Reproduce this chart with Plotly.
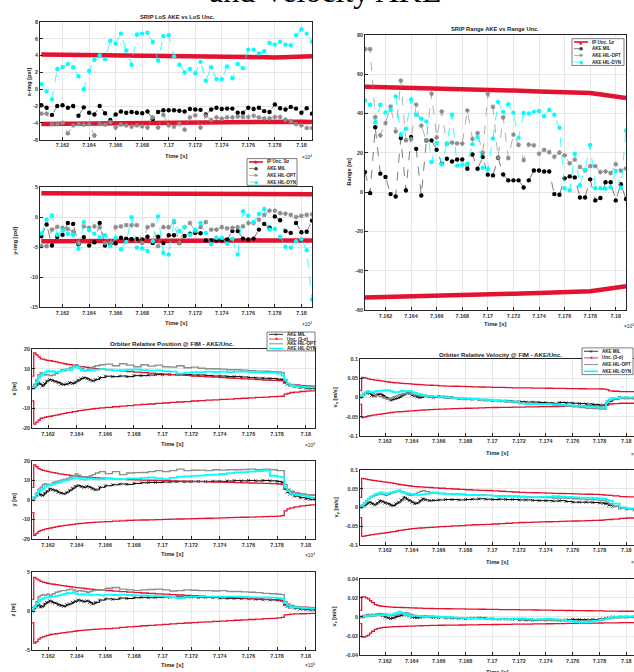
import plotly.graph_objects as go

W, H = 634, 672

RED = "#E3122F"
GRAY = "#8C8C8C"
CYAN = "#00FFFF"
BLACK = "#000000"
AXIS = "#262626"
GRID = "#E6E6E6"
FONT = "Liberation Sans"

# ---------------------------------------------------------------- ticks
TIME_TICKS = [7.162, 7.164, 7.166, 7.168, 7.170, 7.172, 7.174, 7.176, 7.178, 7.180]
TIME_TICK_TEXT = ["7.162", "7.164", "7.166", "7.168", "7.17", "7.172", "7.174", "7.176", "7.178", "7.18"]

YTICKS_XIMG = [-6, -4, -2, 0, 2, 4, 6, 8]
YTICKS_YIMG = [-15, -10, -5, 0, 5]
YTICKS_RANGE = [-60, -40, -20, 0, 20, 40, 60, 80]
YTICKS_POS = [-20, -10, 0, 10, 20]
YTICKS_POSZ = [-5, 0, 5]
YTICKS_VEL = [-0.1, -0.05, 0, 0.05, 0.1]
YTICKS_VELZ = [-0.04, -0.02, 0, 0.02, 0.04]

# ---------------------------------------------------------------- SRIP (time in 1e4 s)
T_SRIP = [7.1604, 7.1608, 7.1612, 7.1616, 7.1620, 7.1624, 7.1628, 7.1632, 7.1636, 7.1640,
          7.1644, 7.1648, 7.1652, 7.1656, 7.1660, 7.1664, 7.1668, 7.1672, 7.1676, 7.1680,
          7.1684, 7.1688, 7.1692, 7.1696, 7.1700, 7.1704, 7.1708, 7.1712, 7.1716, 7.1720,
          7.1724, 7.1728, 7.1732, 7.1736, 7.1740, 7.1744, 7.1748, 7.1752, 7.1756, 7.1760,
          7.1764, 7.1768, 7.1772, 7.1776, 7.1780, 7.1784, 7.1788, 7.1792, 7.1796, 7.1800,
          7.1804, 7.1808]
T_SRIP_UNC = [7.1604, 7.1620, 7.1640, 7.1660, 7.1680, 7.1700, 7.1720, 7.1740, 7.1760,
              7.1780, 7.1790, 7.1800, 7.1808]

XIMG_UNC3 = [4.12, 4.10, 4.08, 4.05, 4.02, 3.98, 3.93, 3.88, 3.82, 3.78, 3.80, 3.85, 3.90]
XIMG_MIL = [-1.9, -2.2, -3.05, -2.0, -1.9, -2.2, -2.0, -3.15, -2.15, -2.8,
            -3.0, -2.0, -2.85, -3.65, -3.0, -2.65, -2.8, -2.7, -2.8, -2.85,
            -2.65, -3.55, -2.7, -2.5, -2.5, -2.5, -2.55, -2.65, -2.35, -2.4,
            -2.45, -3.0, -2.4, -2.2, -2.35, -2.3, -2.3, -2.8, -2.8, -2.2,
            -2.35, -2.2, -2.6, -2.7, -1.8, -2.25, -2.4, -2.1, -2.3, -2.8,
            -2.25, -2.9]
XIMG_OPT = [-2.9, -2.9, -4.15, -4.15, -4.0, -5.25, -4.3, -4.15, -4.2, -4.15,
            -5.5, -4.15, -4.2, -3.9, -4.55, -4.2, -4.3, -4.45, -4.3, -4.4,
            -4.55, -3.35, -4.55, -3.05, -4.3, -4.45, -4.1, -4.8, -3.35, -3.1,
            -4.55, -3.15, -3.65, -3.35, -3.5, -3.35, -3.35, -3.25, -3.3, -3.3,
            -3.15, -3.35, -3.45, -3.45, -3.3, -3.3, -3.6, -3.8, -4.15, -4.3,
            -4.6, -4.6]
XIMG_DYN = [0.6, -0.25, -1.2, 2.4, 2.6, 3.0, 2.6, 1.55, 0.0, 2.2,
            3.5, 4.0, 3.55, 5.75, 5.4, 6.6, 4.6, 2.9, 6.5, 6.6,
            6.7, 5.6, 3.4, 6.3, 6.4, 3.9, 2.9, 2.0, 2.4, 1.9,
            3.25, 1.0, 2.6, 1.2, 1.2, 2.7, 1.3, 3.0, 2.5, 4.7,
            4.7, 4.25, 4.5, 5.5, 5.3, 5.65, 5.3, 5.2, 6.4, 7.1,
            6.6, 5.65]

YIMG_UNC3 = [4.0, 3.98, 3.95, 3.92, 3.90, 3.87, 3.84, 3.80, 3.76, 3.72, 3.75, 3.80, 3.85]
YIMG_MIL = [-3.15, -1.2, -4.7, -3.25, -2.9, -0.95, -1.1, -4.5, -3.3, -4.7,
            -4.15, -0.95, -4.7, -4.5, -4.35, -3.4, -3.55, -3.6, -3.6, -3.7,
            -3.25, -4.3, -3.25, -4.3, -3.0, -3.0, -4.3, -3.1, -2.75, -2.6,
            -2.65, -3.85, -3.85, -3.85, -3.85, -3.7, -2.3, -2.3, -3.55, -3.7,
            -3.55, -2.05, -1.1, -1.75, 0.15, -0.5, -2.3, -2.6, -0.95, -2.5,
            -2.4, -0.55]
YIMG_OPT = [-4.8, -4.8, -2.05, -1.6, -1.75, -1.95, -2.4, -4.25, -1.5, -1.75,
            -1.5, -1.65, -4.25, -4.25, -1.65, -1.5, -1.3, -1.3, -1.3, -4.25,
            -1.65, -1.3, -4.8, -1.65, -1.65, -0.8, -4.25, -1.65, -0.95, -2.3,
            -1.65, -0.8, -2.05, -2.05, -1.65, -1.85, -1.75, -1.65, -1.5, -0.95,
            -0.95, -0.4, 0.4, 1.1, 1.1, 0.7, 0.6, 0.4, 0.05, 0.25,
            0.4, 0.5]
YIMG_DYN = [-2.7, -0.4, 0.3, -2.9, -2.2, -2.75, -2.9, -5.2, -0.8, -2.15,
            -2.75, -3.3, -3.0, -4.8, -3.4, -5.35, -4.1, 0.0, -5.05, -5.2,
            -5.6, -4.0, 0.15, -5.9, -6.2, -0.55, -2.3, -1.65, -2.9, -2.05,
            -0.95, -2.6, -4.5, -3.4, -3.4, -4.4, -3.55, -6.2, 1.0, 0.25,
            -0.8, 0.55, 1.4, -2.05, -1.95, -3.25, -4.9, -5.05, -4.0, -3.6,
            -5.5, -13.7]

RANGE_UNC1 = [53.5, 53.3, 53.0, 52.7, 52.4, 52.0, 51.6, 51.2, 50.8, 50.4, 49.5, 48.6, 47.8]
RANGE_MIL = [10.2, -0.5, 33.0, 9.4, 7.7, -1.0, -2.2, 27.5, 0.8, 28.0,
             22.0, -1.7, 26.3, 26.3, 21.5, 14.5, 17.0, 15.6, 16.6, 16.6,
             11.9, 19.1, 11.9, 17.8, 8.9, 8.5, 17.5, 9.0, 6.0, 6.0,
             6.0, 2.4, 6.0, 11.0, 11.0, 10.5, 10.5, -1.0, -1.3, 7.0,
             8.0, 7.5, -2.7, -2.7, 6.5, -4.2, -3.0, 5.0, 5.0, -4.2,
             4.0, -3.5]
RANGE_OPT = [72.7, 72.7, 38.1, 28.8, 35.1, 43.5, 30.8, 56.7, 26.3, 27.0,
             44.4, 33.8, 26.3, 50.0, 27.8, 41.0, 24.5, 25.2, 24.8, 24.7,
             41.5, 27.0, 30.0, 20.0, 50.0, 43.3, 17.5, 38.0, 17.3, 29.2,
             24.0, 16.3, 24.2, 23.8, 19.5, 21.5, 20.3, 18.0, 20.1, 18.7,
             14.6, 16.5, 12.8, 11.0, 13.2, 13.2, 10.2, 10.5, 9.7, 14.2,
             10.9, 12.0]
RANGE_DYN = [46.6, 44.4, 35.5, 44.4, 40.5, 41.8, 48.6, 29.2, 32.2, 47.1,
             39.3, 37.3, 35.9, 15.3, 25.0, 14.2, 24.7, 39.3, 13.5, 14.0,
             14.5, 24.4, 28.0, 12.4, 11.7, 27.3, 45.8, 40.8, 44.7, 40.4,
             27.6, 40.2, 40.0, 40.8, 41.2, 38.6, 41.8, 39.3, 32.7, 2.0,
             1.0, 19.5, 3.5, 11.4, 24.0, 2.0, 2.0, 1.8, 2.5, 10.8,
             2.2, 31.3]

# ---------------------------------------------------------------- orbiter position (time in 1e4 s)
T_POS = [7.16090, 7.16100, 7.16115, 7.16130, 7.16145, 7.16160, 7.16175, 7.16190, 7.16210, 7.16230,
         7.16250, 7.16270, 7.16290, 7.16310, 7.16330, 7.16350, 7.16370, 7.16390, 7.16410, 7.16430,
         7.16450, 7.16470, 7.16490, 7.16510, 7.16530, 7.16560, 7.16600, 7.16650, 7.16700, 7.16750,
         7.16800, 7.16850, 7.16900, 7.16950, 7.17000, 7.17050, 7.17100, 7.17150, 7.17200, 7.17250,
         7.17300, 7.17350, 7.17400, 7.17450, 7.17500, 7.17550, 7.17600, 7.17650, 7.17700, 7.17750,
         7.17800, 7.17830, 7.17850, 7.17870, 7.17890, 7.17920, 7.17960, 7.18000, 7.18030, 7.18065]

POSX_UNC = [6.3, 18.0, 17.0, 16.0, 15.0, 14.8, 14.5, 14.2, 14.0, 13.7,
            13.4, 13.1, 12.8, 12.5, 12.2, 12.0, 11.7, 11.5, 11.2, 11.0,
            10.8, 10.6, 10.4, 10.2, 10.0, 9.8, 9.5, 9.2, 8.9, 8.6,
            8.3, 8.0, 7.8, 7.5, 7.3, 7.0, 6.8, 6.6, 6.3, 6.1,
            5.9, 5.7, 5.5, 5.3, 5.1, 4.9, 4.7, 4.5, 4.3, 4.1,
            4.0, 3.9, 2.8, 2.5, 2.0, 1.8, 1.5, 1.3, 1.2, 1.1]
POSX_MIL = [0, 0.5, 1.7, 2.8, 2.2, 1.3, 2.5, 3.8, 4.5, 4.0,
            3.5, 3.0, 2.2, 2.0, 2.3, 3.0, 2.5, 3.3, 4.2, 5.0,
            5.5, 5.0, 4.3, 3.8, 4.5, 5.5, 6.2, 6.0, 6.3, 6.0,
            6.5, 6.5, 6.8, 7.0, 7.0, 7.0, 7.2, 7.0, 6.8, 6.8,
            6.5, 6.3, 6.3, 6.0, 6.0, 5.8, 5.5, 5.3, 5.2, 5.0,
            4.7, 4.5, 3.0, 2.2, 1.5, 1.0, 0.5, 0.2, 0.0, 0.0]
POSX_OPT = [0, 2.0, 4.5, 7.0, 8.0, 7.5, 6.8, 7.0, 6.5, 6.8,
            7.5, 8.5, 9.5, 9.0, 9.8, 10.5, 11.5, 12.0, 11.0, 10.0,
            9.0, 9.5, 10.0, 11.0, 11.5, 12.0, 12.3, 11.5, 12.5, 11.8,
            11.0, 12.0, 11.3, 11.8, 11.0, 10.8, 11.5, 10.5, 10.8, 10.2,
            10.0, 10.0, 9.8, 9.5, 9.5, 9.3, 9.0, 8.8, 8.7, 8.5,
            8.3, 8.0, 4.0, 2.5, 2.0, 1.5, 1.0, 1.0, 0.8, 0.7]
POSX_DYN = [0, 1.0, 3.0, 5.5, 6.5, 7.5, 8.3, 9.0, 8.5, 8.8,
            8.3, 8.5, 9.0, 9.7, 9.5, 9.2, 10.5, 11.0, 10.0, 9.0,
            8.8, 9.0, 9.3, 9.0, 9.5, 9.8, 9.5, 9.0, 9.3, 9.5,
            9.7, 9.3, 9.0, 9.2, 8.8, 8.5, 7.5, 8.0, 8.3, 8.3,
            8.5, 8.3, 8.5, 8.3, 8.5, 8.5, 8.3, 8.2, 8.0, 8.0,
            7.5, 6.5, 4.5, 2.5, 1.5, 1.0, 0.8, 0.6, 0.5, 0.5]

POSY_UNC = [6.5, 18.0, 17.0, 16.0, 15.5, 15.2, 14.9, 14.6, 14.3, 14.0,
            13.7, 13.4, 13.2, 13.0, 12.8, 12.6, 12.4, 12.2, 12.0, 11.9,
            11.8, 11.6, 11.5, 11.4, 11.3, 11.2, 11.0, 10.8, 10.6, 10.4,
            10.3, 10.2, 10.1, 10.0, 9.9, 9.8, 9.7, 9.6, 9.5, 9.4,
            9.3, 9.2, 9.1, 9.0, 8.9, 8.8, 8.7, 8.6, 8.5, 8.4,
            8.2, 8.0, 5.5, 4.5, 4.0, 3.5, 3.0, 2.7, 2.5, 2.4]
POSY_MIL = [0, 1.0, 2.5, 3.3, 2.6, 2.4, 3.5, 4.5, 5.7, 5.2,
            4.8, 4.0, 3.5, 3.2, 4.0, 5.0, 6.0, 7.0, 7.4, 6.8,
            6.5, 7.0, 6.5, 5.7, 5.2, 6.5, 7.3, 7.8, 8.2, 8.0,
            8.5, 8.8, 9.0, 9.0, 9.2, 9.3, 9.4, 9.3, 9.4, 9.5,
            9.4, 9.6, 9.5, 9.7, 9.9, 9.8, 10.0, 9.8, 10.0, 9.8,
            9.5, 9.0, 6.0, 4.0, 3.0, 2.0, 1.2, 0.7, 0.4, 0.3]
POSY_OPT = [0, 1.5, 3.5, 5.5, 6.5, 7.8, 8.3, 8.0, 7.8, 9.0,
            9.3, 9.8, 10.3, 10.7, 11.0, 11.8, 12.4, 13.3, 12.5, 11.9,
            11.6, 11.8, 12.4, 13.0, 13.8, 14.5, 13.5, 14.5, 13.0, 13.8,
            14.0, 14.1, 14.5, 15.0, 14.5, 15.0, 15.8, 15.0, 15.2, 15.3,
            15.0, 15.5, 15.3, 15.5, 15.5, 15.6, 15.8, 15.5, 15.8, 15.5,
            15.0, 15.0, 8.0, 5.5, 4.5, 3.5, 3.0, 2.7, 2.5, 2.4]
POSY_DYN = [0, 1.5, 3.0, 4.5, 5.2, 6.0, 7.0, 7.4, 8.0, 8.2,
            8.5, 9.0, 9.5, 9.9, 10.3, 10.7, 11.0, 11.6, 11.0, 10.7,
            10.4, 10.8, 11.1, 10.7, 10.5, 10.7, 11.1, 10.8, 10.7, 11.0,
            11.1, 11.3, 11.6, 11.0, 10.7, 11.3, 11.9, 12.1, 12.3, 12.5,
            12.8, 13.0, 13.3, 13.7, 14.1, 14.3, 14.5, 14.8, 15.0, 12.4,
            12.0, 11.6, 6.5, 4.5, 3.2, 2.6, 2.4, 1.8, 1.2, 1.0]

POSZ_UNC_HI = [1.5, 4.3, 4.1, 3.95, 3.8, 3.7, 3.62, 3.55, 3.48, 3.42,
               3.36, 3.3, 3.25, 3.2, 3.15, 3.1, 3.05, 3.0, 2.96, 2.92,
               2.88, 2.84, 2.8, 2.76, 2.72, 2.68, 2.62, 2.55, 2.48, 2.42,
               2.35, 2.3, 2.25, 2.2, 2.15, 2.1, 2.05, 2.0, 1.95, 1.9,
               1.85, 1.8, 1.76, 1.72, 1.68, 1.64, 1.6, 1.55, 1.5, 1.45,
               1.4, 1.35, 0.9, 0.75, 0.65, 0.55, 0.5, 0.45, 0.42, 0.4]
POSZ_UNC_LO = [-1.5, -4.1, -3.9, -3.6, -3.4, -3.3, -3.2, -3.1, -3.0, -2.95,
               -2.9, -2.85, -2.8, -2.75, -2.7, -2.65, -2.6, -2.55, -2.5, -2.47,
               -2.44, -2.4, -2.37, -2.34, -2.31, -2.28, -2.25, -2.18, -2.1, -2.02,
               -1.95, -1.88, -1.82, -1.76, -1.7, -1.64, -1.58, -1.53, -1.48, -1.43,
               -1.38, -1.33, -1.28, -1.23, -1.18, -1.13, -1.08, -1.03, -0.98, -0.93,
               -0.88, -0.82, -0.5, -0.45, -0.4, -0.37, -0.35, -0.32, -0.3, -0.3]
POSZ_MIL = [0, 0.3, 0.6, 0.8, 0.5, 0.6, 0.9, 1.1, 1.3, 1.1,
            1.0, 0.8, 0.7, 0.6, 0.8, 0.9, 1.1, 1.25, 1.4, 1.3,
            1.2, 1.3, 1.1, 0.9, 1.1, 1.4, 1.55, 1.5, 1.65, 1.6,
            1.7, 1.75, 1.7, 1.75, 1.8, 1.75, 1.8, 1.75, 1.78, 1.72,
            1.75, 1.7, 1.65, 1.62, 1.6, 1.58, 1.55, 1.5, 1.45, 1.42,
            1.38, 1.3, 0.8, 0.6, 0.45, 0.35, 0.25, 0.2, 0.15, 0.15]
POSZ_OPT = [0, 0.6, 1.2, 1.8, 2.0, 2.1, 2.0, 2.15, 2.0, 2.2,
            2.4, 2.5, 2.6, 2.6, 2.7, 2.8, 2.7, 2.5, 2.6, 2.55,
            2.5, 2.4, 2.5, 2.6, 2.7, 2.65, 2.9, 3.0, 2.8, 2.7,
            2.6, 2.7, 2.75, 2.8, 2.7, 2.55, 2.6, 2.7, 2.65, 2.6,
            2.6, 2.55, 2.6, 2.5, 2.5, 2.45, 2.4, 2.35, 2.25, 2.2,
            2.15, 2.1, 1.2, 0.9, 0.7, 0.6, 0.5, 0.45, 0.4, 0.4]
POSZ_DYN = [0, 0.5, 0.9, 1.3, 1.5, 1.6, 1.7, 1.75, 1.8, 1.85,
            1.9, 2.0, 2.1, 2.2, 2.3, 2.25, 2.4, 2.2, 2.1, 2.15,
            2.1, 2.15, 2.0, 2.1, 2.1, 2.0, 2.1, 2.05, 2.1, 2.05,
            2.0, 2.0, 1.95, 1.9, 1.9, 1.75, 1.65, 1.8, 1.85, 1.85,
            1.85, 1.85, 1.8, 1.85, 1.85, 1.8, 1.75, 1.75, 1.75, 1.7,
            1.65, 1.55, 1.0, 0.7, 0.5, 0.45, 0.4, 0.35, 0.3, 0.3]

# ---------------------------------------------------------------- orbiter velocity (time in 1e4 s)
T_VEL = [7.16015, 7.16025, 7.16040, 7.16055, 7.16070, 7.16085, 7.16100, 7.16120, 7.16140, 7.16160,
         7.16180, 7.16200, 7.16220, 7.16240, 7.16260, 7.16280, 7.16300, 7.16320, 7.16340, 7.16360,
         7.16380, 7.16400, 7.16420, 7.16440, 7.16460, 7.16480, 7.16500, 7.16530, 7.16560, 7.16600,
         7.16650, 7.16700, 7.16750, 7.16800, 7.16850, 7.16900, 7.16950, 7.17000, 7.17050, 7.17100,
         7.17150, 7.17200, 7.17250, 7.17300, 7.17350, 7.17400, 7.17450, 7.17500, 7.17550, 7.17600,
         7.17650, 7.17700, 7.17750, 7.17800, 7.17830, 7.17850, 7.17870, 7.17900, 7.17950, 7.18000,
         7.18060]

VELX_UNC = [0.018, 0.052, 0.051, 0.050, 0.048, 0.047, 0.046, 0.045, 0.044, 0.043,
            0.042, 0.041, 0.040, 0.039, 0.038, 0.0375, 0.037, 0.0365, 0.036, 0.0355,
            0.035, 0.0345, 0.034, 0.0335, 0.033, 0.0325, 0.032, 0.0315, 0.031, 0.030,
            0.0295, 0.029, 0.0285, 0.028, 0.0275, 0.027, 0.0265, 0.026, 0.0258, 0.0255,
            0.025, 0.0248, 0.0245, 0.0243, 0.024, 0.0238, 0.0235, 0.0232, 0.023, 0.0228,
            0.0225, 0.0222, 0.022, 0.0218, 0.0215, 0.020, 0.017, 0.016, 0.015, 0.015,
            0.015]
VELX_MIL = [0, 0.004, 0.009, 0.011, 0.013, 0.010, 0.005, 0.004, 0.008, 0.009,
            0.005, 0.000, -0.003, -0.007, -0.004, -0.003, 0.000, 0.004, 0.008, 0.013,
            0.010, 0.006, 0.004, 0.001, 0.000, 0.002, 0.004, 0.002, 0.000, 0.003,
            0.001, 0.000, -0.003, -0.004, -0.005, -0.006, -0.007, -0.008, -0.009, -0.009,
            -0.010, -0.011, -0.012, -0.012, -0.013, -0.014, -0.015, -0.013, -0.014, -0.015,
            -0.016, -0.017, -0.018, -0.020, -0.020, -0.018, -0.010, -0.004, 0.000, -0.001,
            -0.002]
VELX_OPT = [0, 0.004, 0.010, 0.013, 0.012, 0.013, 0.010, 0.006, 0.004, 0.002,
            0.000, -0.003, -0.004, -0.002, 0.002, 0.004, 0.007, 0.009, 0.010, 0.011,
            0.010, 0.008, 0.006, 0.005, 0.004, 0.003, 0.004, 0.002, 0.001, 0.000,
            -0.002, -0.003, -0.004, -0.004, -0.005, -0.006, -0.008, -0.009, -0.010, -0.012,
            -0.013, -0.014, -0.015, -0.016, -0.017, -0.018, -0.020, -0.021, -0.023, -0.024,
            -0.026, -0.028, -0.029, -0.030, -0.030, -0.010, -0.005, -0.003, -0.003, -0.003,
            -0.003]
VELX_DYN = [0, 0.005, 0.010, 0.015, 0.017, 0.014, 0.013, 0.016, 0.017, 0.017,
            0.018, 0.019, 0.018, 0.016, 0.014, 0.013, 0.015, 0.017, 0.015, 0.016,
            0.017, 0.014, 0.012, 0.009, 0.008, 0.006, 0.004, 0.004, 0.003, 0.002,
            0.000, -0.001, -0.002, -0.003, -0.004, -0.005, -0.006, -0.007, -0.008, -0.010,
            -0.011, -0.016, -0.017, -0.017, -0.017, -0.018, -0.018, -0.019, -0.020, -0.021,
            -0.022, -0.024, -0.025, -0.026, -0.026, -0.012, -0.005, -0.002, 0.000, 0.000,
            0.000]

VELY_UNC = [0.027, 0.077, 0.076, 0.075, 0.074, 0.073, 0.072, 0.071, 0.070, 0.069,
            0.068, 0.067, 0.066, 0.065, 0.064, 0.0625, 0.061, 0.060, 0.059, 0.058,
            0.057, 0.056, 0.0555, 0.055, 0.0545, 0.054, 0.0535, 0.053, 0.052, 0.051,
            0.050, 0.049, 0.048, 0.047, 0.046, 0.0455, 0.045, 0.044, 0.043, 0.042,
            0.041, 0.040, 0.0395, 0.039, 0.0385, 0.038, 0.0375, 0.037, 0.0365, 0.036,
            0.0355, 0.035, 0.0345, 0.034, 0.033, 0.0325, 0.032, 0.031, 0.029, 0.028,
            0.027]
VELY_MIL = [0, 0.002, 0.004, 0.008, 0.012, 0.014, 0.010, 0.007, 0.012, 0.018,
            0.015, 0.012, 0.010, 0.006, 0.005, 0.010, 0.014, 0.020, 0.027, 0.022,
            0.018, 0.014, 0.010, 0.012, 0.018, 0.023, 0.020, 0.018, 0.019, 0.020,
            0.021, 0.021, 0.020, 0.021, 0.022, 0.023, 0.022, 0.021, 0.022, 0.021,
            0.021, 0.020, 0.020, 0.019, 0.018, 0.018, 0.017, 0.018, 0.016, 0.014,
            0.014, 0.014, 0.013, 0.012, 0.011, 0.010, 0.006, 0.003, -0.002, -0.004,
            -0.006]
VELY_OPT = [0, 0.006, 0.012, 0.018, 0.022, 0.027, 0.029, 0.032, 0.034, 0.036,
            0.034, 0.032, 0.035, 0.038, 0.040, 0.043, 0.045, 0.042, 0.039, 0.034,
            0.032, 0.033, 0.036, 0.040, 0.043, 0.045, 0.042, 0.040, 0.038, 0.037,
            0.036, 0.036, 0.035, 0.034, 0.033, 0.033, 0.032, 0.031, 0.031, 0.030,
            0.030, 0.029, 0.028, 0.027, 0.027, 0.026, 0.025, 0.025, 0.024, 0.023,
            0.022, 0.021, 0.020, 0.019, 0.018, 0.014, 0.010, 0.003, -0.002, -0.003,
            -0.0035]
VELY_DYN = [0, 0.004, 0.010, 0.016, 0.022, 0.027, 0.031, 0.035, 0.037, 0.040,
            0.038, 0.036, 0.038, 0.040, 0.042, 0.043, 0.045, 0.040, 0.039, 0.037,
            0.036, 0.035, 0.034, 0.033, 0.034, 0.035, 0.036, 0.038, 0.040, 0.037,
            0.036, 0.035, 0.034, 0.033, 0.033, 0.032, 0.032, 0.031, 0.030, 0.030,
            0.029, 0.028, 0.027, 0.027, 0.028, 0.029, 0.030, 0.029, 0.028, 0.027,
            0.026, 0.026, 0.025, 0.024, 0.023, 0.020, 0.018, 0.010, 0.000, -0.003,
            -0.0035]

VELZ_UNC = [0.007, 0.021, 0.021, 0.020, 0.019, 0.017, 0.015, 0.013, 0.012, 0.0115,
            0.011, 0.0108, 0.0106, 0.0104, 0.0102, 0.0101, 0.0100, 0.0099, 0.0098, 0.0097,
            0.0096, 0.0095, 0.0094, 0.0093, 0.0092, 0.0091, 0.0090, 0.0089, 0.0088, 0.0087,
            0.0086, 0.0085, 0.0084, 0.0083, 0.0082, 0.0081, 0.0080, 0.0079, 0.0078, 0.0077,
            0.0076, 0.0075, 0.0074, 0.0073, 0.0072, 0.0071, 0.0070, 0.0069, 0.0068, 0.0067,
            0.0066, 0.0065, 0.0064, 0.0063, 0.0062, 0.0062, 0.0061, 0.0061, 0.0060, 0.0060,
            0.0060]
VELZ_MIL = [0, 0.000, 0.0005, 0.001, 0.0015, 0.002, 0.0017, 0.002, 0.0025, 0.0028,
            0.0015, 0.0, -0.001, -0.0017, -0.001, 0.0005, 0.001, 0.002, 0.0028, 0.002,
            0.001, 0.0, -0.0005, -0.0007, -0.0003, 0.0, 0.0005, 0.000, -0.0005, -0.0007,
            -0.0010, -0.0012, -0.0015, -0.0017, -0.0013, -0.0010, -0.0015, -0.0020, -0.0024, -0.0022,
            -0.0025, -0.0030, -0.0032, -0.0034, -0.0030, -0.0032, -0.0030, -0.0034, -0.0030, -0.0025,
            -0.0028, -0.0030, -0.0026, -0.0024, -0.0020, -0.0017, -0.0010, 0.0, 0.0, 0.0,
            0.0]
VELZ_OPT = [0, 0.0003, 0.001, 0.0015, 0.002, 0.0025, 0.002, 0.0015, 0.002, 0.003,
            0.0032, 0.003, 0.0025, 0.002, 0.0015, 0.002, 0.003, 0.004, 0.0045, 0.004,
            0.003, 0.002, 0.0015, 0.001, 0.001, 0.0008, 0.0005, 0.0003, 0.0, -0.0003,
            -0.0005, -0.0007, -0.001, -0.0012, -0.0015, -0.0017, -0.0018, -0.002, -0.002, -0.0022,
            -0.0024, -0.0026, -0.0028, -0.003, -0.0032, -0.0035, -0.0038, -0.004, -0.004, -0.0042,
            -0.004, -0.0038, -0.0035, -0.003, -0.0025, -0.002, -0.0015, -0.001, -0.0005, 0.0,
            0.0]
VELZ_DYN = [0, 0.0003, 0.0008, 0.001, 0.0012, 0.0015, 0.0018, 0.002, 0.002, 0.0022,
            0.002, 0.0018, 0.0022, 0.0028, 0.0035, 0.0045, 0.0055, 0.0045, 0.003, 0.002,
            0.001, 0.0012, 0.0015, 0.0010, 0.0005, 0.000, 0.0003, 0.001, 0.0005, 0.000,
            -0.0003, -0.0007, -0.0010, -0.0013, -0.0015, -0.0017, -0.0018, -0.0020, -0.0022, -0.0024,
            -0.0018, -0.0015, -0.0020, -0.0027, -0.0022, -0.0020, -0.0025, -0.0030, -0.0040, -0.0055,
            -0.0060, -0.0050, -0.0040, -0.0030, -0.0025, -0.0020, -0.0010, 0.0, 0.0005, 0.0005,
            0.0003]


# ---------------------------------------------------------------- helpers
def px(x):
    return x / W


def py(y):
    return 1 - y / H


def neg(values):
    return [-v for v in values]


def refs(i):
    return ("x" if i == 1 else f"x{i}", "y" if i == 1 else f"y{i}")


def tick_text(vals):
    return [f"{v:g}" for v in vals]


fig = go.Figure()
shapes = []
annotations = []

# panel frames in page pixels: (left, top, right, bottom)
PANELS = [
    dict(box=(40, 19, 312, 138), xr=(7.1603, 7.1808), yr=(-6, 8), yt=YTICKS_XIMG, full=True),
    dict(box=(40, 186, 312, 307), xr=(7.1603, 7.1808), yr=(-15, 5), yt=YTICKS_YIMG, full=True),
    dict(box=(365, 32, 626, 310), xr=(7.1604, 7.1808), yr=(-60, 80), yt=YTICKS_RANGE, full=True),
    dict(box=(32, 349, 315, 429), xr=(7.16088, 7.18065), yr=(-20, 20), yt=YTICKS_POS, full=True),
    dict(box=(32, 462, 315, 541), xr=(7.16088, 7.18065), yr=(-20, 20), yt=YTICKS_POS, full=True),
    dict(box=(32, 574, 315, 653), xr=(7.16088, 7.18065), yr=(-5, 5), yt=YTICKS_POSZ, full=True),
    dict(box=(360, 359, 634, 437), xr=(7.16013, 7.18058), yr=(-0.1, 0.1), yt=YTICKS_VEL, full=False),
    dict(box=(360, 471, 634, 547), xr=(7.16013, 7.18058), yr=(-0.1, 0.1), yt=YTICKS_VEL, full=False),
    dict(box=(360, 581, 634, 658), xr=(7.16013, 7.18058), yr=(-0.04, 0.04), yt=YTICKS_VELZ, full=False),
]

tick_font = dict(family=FONT, size=5.4, color="#333333", weight="bold")
layout_axes = {}
for i, p in enumerate(PANELS, start=1):
    x0, y0, x1, y1 = p["box"]
    sfx = "" if i == 1 else str(i)
    layout_axes[f"xaxis{sfx}"] = dict(
        domain=[px(x0), px(x1)], range=list(p["xr"]), anchor=f"y{sfx}",
        tickmode="array", tickvals=TIME_TICKS, ticktext=TIME_TICK_TEXT,
        showgrid=True, gridcolor=GRID, gridwidth=0.6, zeroline=False,
        showline=True, linecolor=AXIS, linewidth=0.8, mirror=True,
        ticks="inside", ticklen=3, tickwidth=0.6, tickcolor=AXIS,
        tickfont=tick_font, ticklabeloverflow="allow", fixedrange=True,
    )
    layout_axes[f"yaxis{sfx}"] = dict(
        domain=[py(y1), py(y0)], range=list(p["yr"]), anchor=f"x{sfx}",
        tickmode="array", tickvals=p["yt"], ticktext=tick_text(p["yt"]),
        showgrid=True, gridcolor=GRID, gridwidth=0.6, zeroline=False,
        showline=True, linecolor=AXIS, linewidth=0.8, mirror=p["full"],
        ticks="inside", ticklen=3, tickwidth=0.6, tickcolor=AXIS,
        tickfont=tick_font, ticklabeloverflow="allow", fixedrange=True,
    )


# ---------------------------------------------------------------- SRIP panels
def srip_panel(i, t_unc, unc, mil, opt, dyn):
    xa, ya = refs(i)
    for band in (unc, neg(unc)):
        fig.add_trace(go.Scatter(
            x=t_unc, y=band, xaxis=xa, yaxis=ya, mode="lines",
            line=dict(color=RED, width=4.5), showlegend=False))
    fig.add_trace(go.Scatter(
        x=T_SRIP, y=mil, xaxis=xa, yaxis=ya, mode="lines+markers",
        line=dict(color="#444444", width=0.7, dash="dash"),
        marker=dict(symbol="circle", size=4.4, color=BLACK), showlegend=False))
    fig.add_trace(go.Scatter(
        x=T_SRIP, y=opt, xaxis=xa, yaxis=ya, mode="lines+markers",
        line=dict(color=GRAY, width=0.7, dash="dash"),
        marker=dict(symbol="asterisk-open", size=4,
                    line=dict(color="#7a7a7a", width=1.1)), showlegend=False))
    fig.add_trace(go.Scatter(
        x=T_SRIP, y=dyn, xaxis=xa, yaxis=ya, mode="lines+markers",
        line=dict(color=CYAN, width=0.8, dash="dash"),
        marker=dict(symbol="circle", size=4.4, color=CYAN), showlegend=False))


srip_panel(1, T_SRIP_UNC, XIMG_UNC3, XIMG_MIL, XIMG_OPT, XIMG_DYN)
srip_panel(2, T_SRIP_UNC, YIMG_UNC3, YIMG_MIL, YIMG_OPT, YIMG_DYN)
srip_panel(3, T_SRIP_UNC, RANGE_UNC1, RANGE_MIL, RANGE_OPT, RANGE_DYN)


# ---------------------------------------------------------------- orbiter state panels
def state_panel(i, t, unc_hi, unc_lo, mil, opt, dyn):
    xa, ya = refs(i)
    fig.add_trace(go.Scatter(
        x=t, y=mil, xaxis=xa, yaxis=ya, mode="lines+markers", line_shape="hv",
        line=dict(color=BLACK, width=1.0),
        marker=dict(symbol="x-thin", size=3, line=dict(color=BLACK, width=0.7)),
        showlegend=False))
    for band in (unc_hi, unc_lo):
        fig.add_trace(go.Scatter(
            x=t, y=band, xaxis=xa, yaxis=ya, mode="lines", line_shape="hv",
            line=dict(color=RED, width=1.3), showlegend=False))
    fig.add_trace(go.Scatter(
        x=t, y=opt, xaxis=xa, yaxis=ya, mode="lines", line_shape="hv",
        line=dict(color=GRAY, width=1.4), showlegend=False))
    fig.add_trace(go.Scatter(
        x=t, y=dyn, xaxis=xa, yaxis=ya, mode="lines", line_shape="hv",
        line=dict(color=CYAN, width=1.8), showlegend=False))


state_panel(4, T_POS, POSX_UNC, neg(POSX_UNC), POSX_MIL, POSX_OPT, POSX_DYN)
state_panel(5, T_POS, POSY_UNC, neg(POSY_UNC), POSY_MIL, POSY_OPT, POSY_DYN)
state_panel(6, T_POS, POSZ_UNC_HI, POSZ_UNC_LO, POSZ_MIL, POSZ_OPT, POSZ_DYN)
state_panel(7, T_VEL, VELX_UNC, neg(VELX_UNC), VELX_MIL, VELX_OPT, VELX_DYN)
state_panel(8, T_VEL, VELY_UNC, neg(VELY_UNC), VELY_MIL, VELY_OPT, VELY_DYN)
state_panel(9, T_VEL, VELZ_UNC, neg(VELZ_UNC), VELZ_MIL, VELZ_OPT, VELZ_DYN)


# ---------------------------------------------------------------- text
def label(text, x, y, size=6, angle=0, xanchor="center", bold=True, color="#222222",
          family=FONT):
    annotations.append(dict(
        text=text, x=px(x), y=py(y), xref="paper", yref="paper",
        xanchor=xanchor, yanchor="middle", showarrow=False, textangle=angle,
        font=dict(family=family, size=size, color=color,
                  weight="bold" if bold else "normal")))


# heading of the page above, partly cut by the page edge
annotations.append(dict(
    text="and Velocity AKE", x=px(325), y=py(8.5), xref="paper", yref="paper",
    xanchor="center", yanchor="bottom", showarrow=False,
    font=dict(family="Liberation Serif", size=32, color="#000000")))

label("SRIP LoS AKE vs LoS Unc.", 177, 14, 5.8)
label("SRIP Range AKE vs Range Unc.", 495, 26, 5.8)
label("Orbiter Relative Position @ FIM - AKE/Unc.", 172, 344, 6.1)
label("Orbiter Relative Velocity @ FIM - AKE/Unc.", 500, 355, 6.1)

for x, y in [(176, 154), (176, 323), (495, 324), (172, 445), (172, 556), (172, 668),
             (497, 454), (497, 564), (497, 675)]:
    label("Time [s]", x, y, 5.9)

for x, y in [(307, 155), (307, 324), (622, 326), (310, 446), (310, 557), (310, 668),
             (629, 455), (629, 564)]:
    label("×10<sup>4</sup>", x, y, 4.8, bold=False, xanchor="left" if x > 620 else "center")

for text, x, y in [("x-img [pxl]", 29, 80), ("y-img [pxl]", 15, 240), ("Range [m]", 349, 171),
                   ("x [m]", 14, 389), ("y [m]", 14, 501), ("z [m]", 13, 613),
                   ("v<sub>x</sub> [m/s]", 335, 398), ("v<sub>y</sub> [m/s]", 336, 509),
                   ("v<sub>z</sub> [m/s]", 334, 619)]:
    label(text, x, y, 5.6, angle=-90)


# ---------------------------------------------------------------- legends
def legend_box(box, entries, seg):
    x0, y0, x1, y1 = box
    shapes.append(dict(type="rect", xref="paper", yref="paper",
                       x0=px(x0), x1=px(x1), y0=py(y1), y1=py(y0),
                       line=dict(color=AXIS, width=0.6), fillcolor="white", layer="above"))
    row = (y1 - y0) / len(entries)
    for k, (text, color, dash, lw, glyph, gsize) in enumerate(entries):
        yc = y0 + row * (k + 0.5)
        shapes.append(dict(type="line", xref="paper", yref="paper",
                           x0=px(x0 + 2), x1=px(x0 + 2 + seg), y0=py(yc), y1=py(yc),
                           line=dict(color=color, width=lw, dash=dash), layer="above"))
        if glyph:
            annotations.append(dict(
                text=glyph, x=px(x0 + 2 + seg / 2), y=py(yc), xref="paper", yref="paper",
                xanchor="center", yanchor="middle", showarrow=False,
                font=dict(family="DejaVu Sans", size=gsize, color=color)))
        annotations.append(dict(
            text=text, x=px(x0 + 4 + seg), y=py(yc), xref="paper", yref="paper",
            xanchor="left", yanchor="middle", showarrow=False,
            font=dict(family=FONT, size=4.5, color="#222222", weight="bold")))


legend_box((247, 157, 297, 184), [
    ("IP Unc. 3σ", RED, "solid", 1.6, "▲", 4.5),
    ("AKE MIL", "#444444", "dash", 0.7, "●", 4.5),
    ("AKE HIL-OPT", GRAY, "dash", 0.7, "✱", 4.5),
    ("AKE HIL-DYN", CYAN, "dash", 0.7, "●", 4.5),
], 14)
legend_box((572, 36, 624, 63), [
    ("IP Unc. 1σ", RED, "solid", 1.6, "▲", 4.5),
    ("AKE MIL", "#444444", "dash", 0.7, "●", 4.5),
    ("AKE HIL-OPT", GRAY, "dash", 0.7, "✱", 4.5),
    ("AKE HIL-DYN", CYAN, "dash", 0.7, "●", 4.5),
], 14)
legend_box((267, 332, 315, 351), [
    ("AKE MIL", BLACK, "solid", 0.8, "×", 4.5),
    ("Unc. (3-σ)", RED, "solid", 0.8, "✱", 3.5),
    ("AKE HIL-OPT", GRAY, "solid", 1.0, "", 4),
    ("AKE HIL-DYN", CYAN, "solid", 1.6, "", 4),
], 14)
legend_box((582, 348, 633, 375), [
    ("AKE MIL", BLACK, "solid", 0.8, "×", 4.5),
    ("Unc. (3-σ)", RED, "solid", 0.8, "✱", 3.5),
    ("AKE HIL-OPT", GRAY, "solid", 1.0, "", 4),
    ("AKE HIL-DYN", CYAN, "solid", 1.6, "", 4),
], 14)

fig.update_layout(
    width=W, height=H, autosize=False,
    margin=dict(l=0, r=0, t=0, b=0),
    paper_bgcolor="white", plot_bgcolor="white",
    font=dict(family=FONT, color="#222222"),
    showlegend=False, shapes=shapes, annotations=annotations,
    **layout_axes,
)

fig.write_html("out.html", config={"displayModeBar": False})
